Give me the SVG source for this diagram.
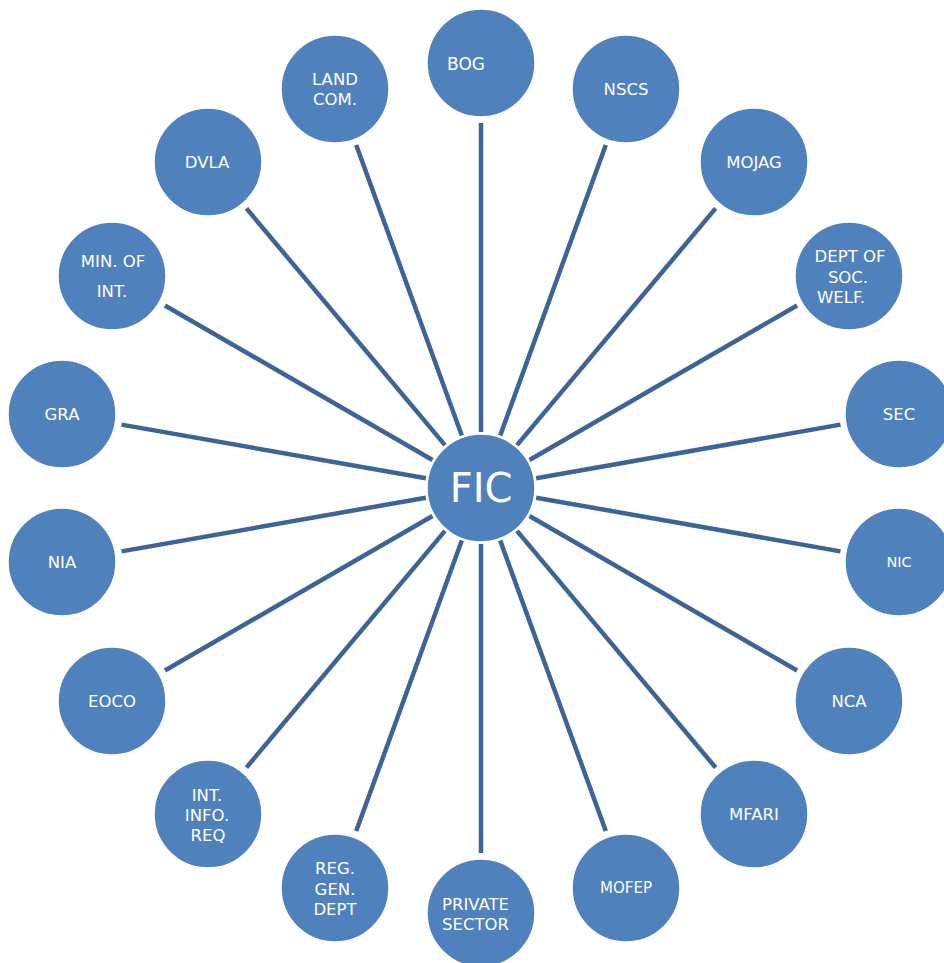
<svg xmlns="http://www.w3.org/2000/svg" width="944" height="963" viewBox="0 0 944 963">
<style>
.n{fill:#4f81bd;stroke:#ffffff;stroke-width:1.5}
.t{fill:#ffffff;font-family:"DejaVu Sans",sans-serif;font-size:16.5px}
.c{stroke:#3c6496;stroke-width:4.5;fill:none}
</style>
<rect width="944" height="963" fill="#ffffff"/>
<g id="connectors">
<line class="c" x1="481" y1="432" x2="481" y2="123"/>
<line class="c" x1="500.2" y1="435.4" x2="605.8" y2="145"/>
<line class="c" x1="517" y1="445.1" x2="715.6" y2="208.4"/>
<line class="c" x1="529.5" y1="460" x2="797.1" y2="305.5"/>
<line class="c" x1="536.1" y1="478.3" x2="840.5" y2="424.6"/>
<line class="c" x1="536.1" y1="497.7" x2="840.5" y2="551.4"/>
<line class="c" x1="529.5" y1="516" x2="797.1" y2="670.5"/>
<line class="c" x1="517" y1="530.9" x2="715.6" y2="767.6"/>
<line class="c" x1="500.2" y1="540.6" x2="605.8" y2="831"/>
<line class="c" x1="481" y1="544" x2="481" y2="853"/>
<line class="c" x1="461.8" y1="540.6" x2="356.2" y2="831"/>
<line class="c" x1="445" y1="530.9" x2="246.4" y2="767.6"/>
<line class="c" x1="432.5" y1="516" x2="164.9" y2="670.5"/>
<line class="c" x1="425.9" y1="497.7" x2="121.5" y2="551.4"/>
<line class="c" x1="425.9" y1="478.3" x2="121.5" y2="424.6"/>
<line class="c" x1="432.5" y1="460" x2="164.9" y2="305.5"/>
<line class="c" x1="445" y1="445.1" x2="246.4" y2="208.4"/>
<line class="c" x1="461.8" y1="435.4" x2="356.2" y2="145"/>
</g>
<g id="fic"><circle class="n" cx="481" cy="488" r="54"/><text class="t" x="481" y="502" text-anchor="middle" style="font-size:40px">FIC</text></g>
<g id="bog"><circle class="n" cx="481" cy="63" r="54"/><text class="t" x="466" y="70" text-anchor="middle" style="font-size:17px">BOG</text></g>
<g id="nscs"><circle class="n" cx="626" cy="89" r="54"/><text class="t" x="626" y="95" text-anchor="middle">NSCS</text></g>
<g id="mojag"><circle class="n" cx="754" cy="162" r="54"/><text class="t" x="754" y="168" text-anchor="middle">MOJAG</text></g>
<g id="dept-soc-welf"><circle class="n" cx="849" cy="276" r="54"/><text class="t" text-anchor="middle"><tspan x="850" y="262">DEPT OF</tspan><tspan x="848" y="283">SOC.</tspan><tspan x="841" y="303">WELF.</tspan></text></g>
<g id="sec"><circle class="n" cx="899" cy="414" r="54"/><text class="t" x="899" y="420" text-anchor="middle">SEC</text></g>
<g id="nic"><circle class="n" cx="899" cy="562" r="54"/><text class="t" x="899" y="567" text-anchor="middle" style="font-size:14.5px">NIC</text></g>
<g id="nca"><circle class="n" cx="849" cy="701" r="54"/><text class="t" x="849" y="707" text-anchor="middle">NCA</text></g>
<g id="mfari"><circle class="n" cx="754" cy="814" r="54"/><text class="t" x="754" y="820" text-anchor="middle">MFARI</text></g>
<g id="mofep"><circle class="n" cx="626" cy="888" r="54"/><text class="t" x="626" y="893" text-anchor="middle" style="font-size:15px">MOFEP</text></g>
<g id="private-sector"><circle class="n" cx="481" cy="913" r="54"/><text class="t"><tspan x="442" y="910">PRIVATE</tspan><tspan x="442" y="930">SECTOR</tspan></text></g>
<g id="reg-gen-dept"><circle class="n" cx="335" cy="888" r="54"/><text class="t" text-anchor="middle"><tspan x="335" y="874">REG.</tspan><tspan x="335" y="895">GEN.</tspan><tspan x="335" y="915">DEPT</tspan></text></g>
<g id="int-info-req"><circle class="n" cx="208" cy="814" r="54"/><text class="t" text-anchor="middle"><tspan x="207" y="801">INT.</tspan><tspan x="207" y="821">INFO.</tspan><tspan x="208" y="841">REQ</tspan></text></g>
<g id="eoco"><circle class="n" cx="112" cy="701" r="54"/><text class="t" x="112" y="707" text-anchor="middle">EOCO</text></g>
<g id="nia"><circle class="n" cx="62" cy="562" r="54"/><text class="t" x="62" y="568" text-anchor="middle">NIA</text></g>
<g id="gra"><circle class="n" cx="62" cy="414" r="54"/><text class="t" x="62" y="420" text-anchor="middle">GRA</text></g>
<g id="min-of-int"><circle class="n" cx="112" cy="276" r="54"/><text class="t" text-anchor="middle"><tspan x="113" y="267">MIN. OF</tspan><tspan x="112" y="297">INT.</tspan></text></g>
<g id="dvla"><circle class="n" cx="208" cy="162" r="54"/><text class="t" x="207" y="168" text-anchor="middle">DVLA</text></g>
<g id="land-com"><circle class="n" cx="335" cy="89" r="54"/><text class="t" text-anchor="middle"><tspan x="335" y="85">LAND</tspan><tspan x="335" y="105">COM.</tspan></text></g>
</svg>
